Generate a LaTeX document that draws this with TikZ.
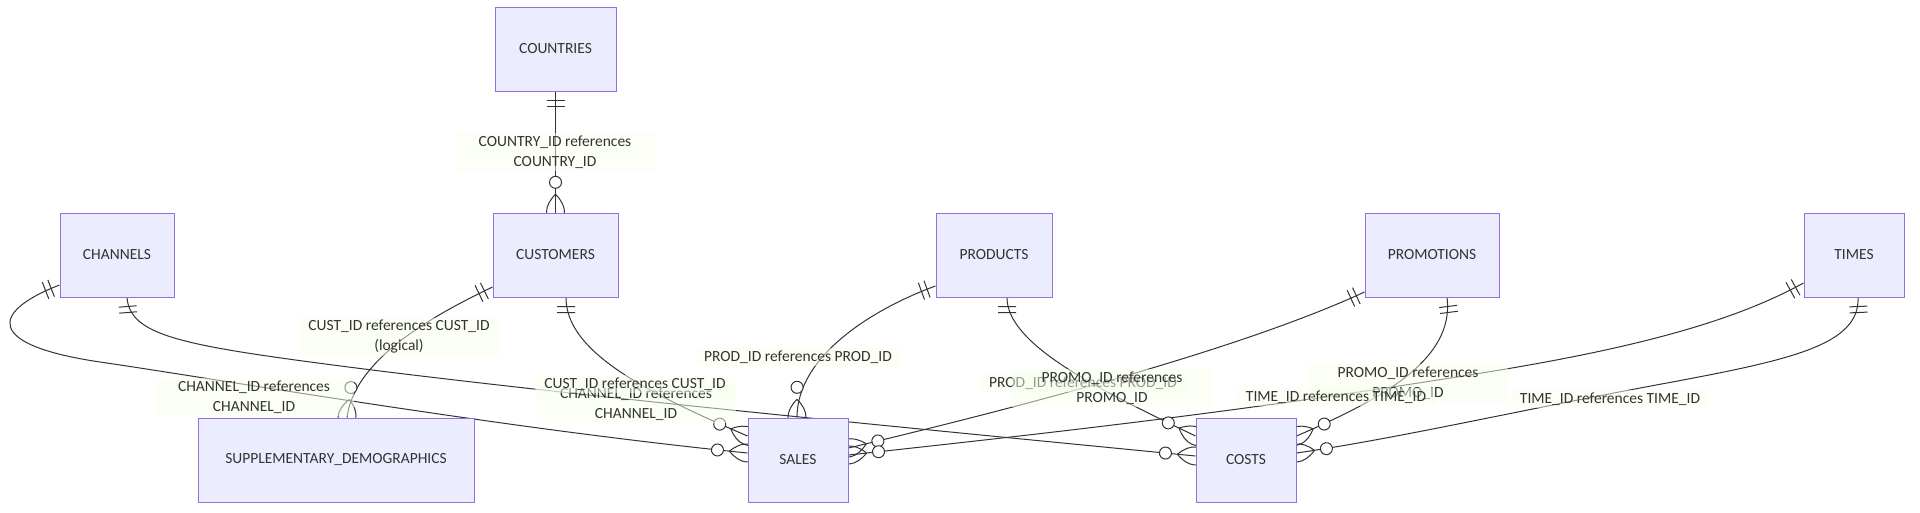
\documentclass[tikz,border=0pt]{standalone}
\usepackage{fontspec}
\setmainfont{Carlito}
\usetikzlibrary{decorations.markings,backgrounds}

\definecolor{entfill}{HTML}{ECECFF}
\definecolor{entline}{HTML}{9370DB}
\definecolor{relcol}{HTML}{333333}
\definecolor{txtcol}{HTML}{333333}
\definecolor{lblfill}{HTML}{F9FFEC}

\begin{document}
\begin{tikzpicture}[x=1pt,y=-1pt,
  entity/.style={draw=entline,fill=entfill,line width=1pt,minimum height=84pt,text=txtcol,font=\fontsize{15.5pt}{20pt}\selectfont},
  lbl/.style={fill=lblfill,fill opacity=.5,text opacity=1,text=txtcol,inner xsep=9pt,inner ysep=2.5pt,align=center,font=\fontsize{15.5pt}{20pt}\selectfont},
  lbltwo/.style={lbl,minimum width=200pt},
  rel/.style={draw=relcol,line width=1pt,postaction={decorate,decoration={markings,
    mark=at position 0 with {\draw[relcol,line width=1pt] (9pt,-9pt) -- (9pt,9pt) (15pt,-9pt) -- (15pt,9pt);},
    mark=at position -0.2pt with {\draw[relcol,line width=1pt,fill=white] (-30pt,0pt) circle (6pt);
      \draw[relcol,line width=1pt] (-18pt,0pt) .. controls (-6pt,12pt) and (6pt,12pt) .. (18pt,0pt)
        .. controls (6pt,-12pt) and (-6pt,-12pt) .. (-18pt,0pt);}}}}]
\useasboundingbox (0,0) rectangle (1920,512);

\node[entity,minimum width=121pt] (countries) at (555.5,49) {COUNTRIES};
\node[entity,minimum width=114pt] (channels) at (117,255) {CHANNELS};
\node[entity,minimum width=125pt] (customers) at (555.5,255) {CUSTOMERS};
\node[entity,minimum width=116pt] (products) at (994,255) {PRODUCTS};
\node[entity,minimum width=134pt] (promotions) at (1432,255) {PROMOTIONS};
\node[entity,minimum width=100pt] (times) at (1854,255) {TIMES};
\node[entity,minimum width=276pt] (suppdemo) at (336,460) {SUPPLEMENTARY\_DEMOGRAPHICS};
\node[entity,minimum width=100pt] (sales) at (798,460) {SALES};
\node[entity,minimum width=100pt] (costs) at (1246,460) {COSTS};

\begin{scope}[on background layer]
\fill[white] (0,0) rectangle (1920,512);
\draw[rel] (countries) -- (customers);
\draw[rel] (customers.west |- 0,287) .. controls (445,310) and (355,355) .. (suppdemo.north -| 347,0);
\draw[rel] (channels.west |- 0,285) .. controls (-10,312) and (-15,345) .. (100,362)
  .. controls (230,381) and (500,428) .. (sales.west |- 0,453);
\draw[rel] (customers.south -| 566,0) .. controls (566,350) and (640,390) .. (sales.west |- 0,436);
\draw[rel] (products.west |- 0,286) .. controls (875,308) and (797,355) .. (sales.north -| 797,0);
\draw[rel] (promotions.west |- 0,292) .. controls (1250,345) and (1050,400) .. (sales.east |- 0,448);
\draw[rel] (times.west |- 0,283) .. controls (1740,318) and (1650,345) .. (1500,370)
  .. controls (1250,411) and (1050,433) .. (sales.east |- 0,455);
\draw[rel] (channels.south -| 127,0) .. controls (130,335) and (180,345) .. (333,365)
  .. controls (563,395) and (900,427) .. (costs.west |- 0,456);
\draw[rel] (products.south -| 1007,0) .. controls (1007,345) and (1100,390) .. (costs.west |- 0,436);
\draw[rel] (promotions.south -| 1447,0) .. controls (1455,360) and (1380,400) .. (costs.east |- 0,436);
\draw[rel] (times.south -| 1858,0) .. controls (1860,345) and (1790,360) .. (1667,383)
  .. controls (1520,410) and (1400,438) .. (costs.east |- 0,453);
\end{scope}

\node[lbltwo] (l1) at (555,152) {COUNTRY\_ID references\\COUNTRY\_ID};
\node[lbltwo] (l2) at (399,337) {CUST\_ID references CUST\_ID\\(logical)};
\node[lbltwo] (l8) at (636,404) {CHANNEL\_ID references\\CHANNEL\_ID};
\node[lbl] (l9) at (1083,383) {PROD\_ID references PROD\_ID};
\node[lbltwo] (l10) at (1408,383) {PROMO\_ID references\\PROMO\_ID};
\node[lbl] (l11) at (1610,399) {TIME\_ID references TIME\_ID};
\node[lbltwo] (l3) at (254,397) {CHANNEL\_ID references\\CHANNEL\_ID};
\node[lbl] (l4) at (635,384) {CUST\_ID references CUST\_ID};
\node[lbl] (l5) at (798,357) {PROD\_ID references PROD\_ID};
\node[lbltwo] (l6) at (1112,388) {PROMO\_ID references\\PROMO\_ID};
\node[lbl] (l7) at (1336,397) {TIME\_ID references TIME\_ID};
\end{tikzpicture}
\end{document}
